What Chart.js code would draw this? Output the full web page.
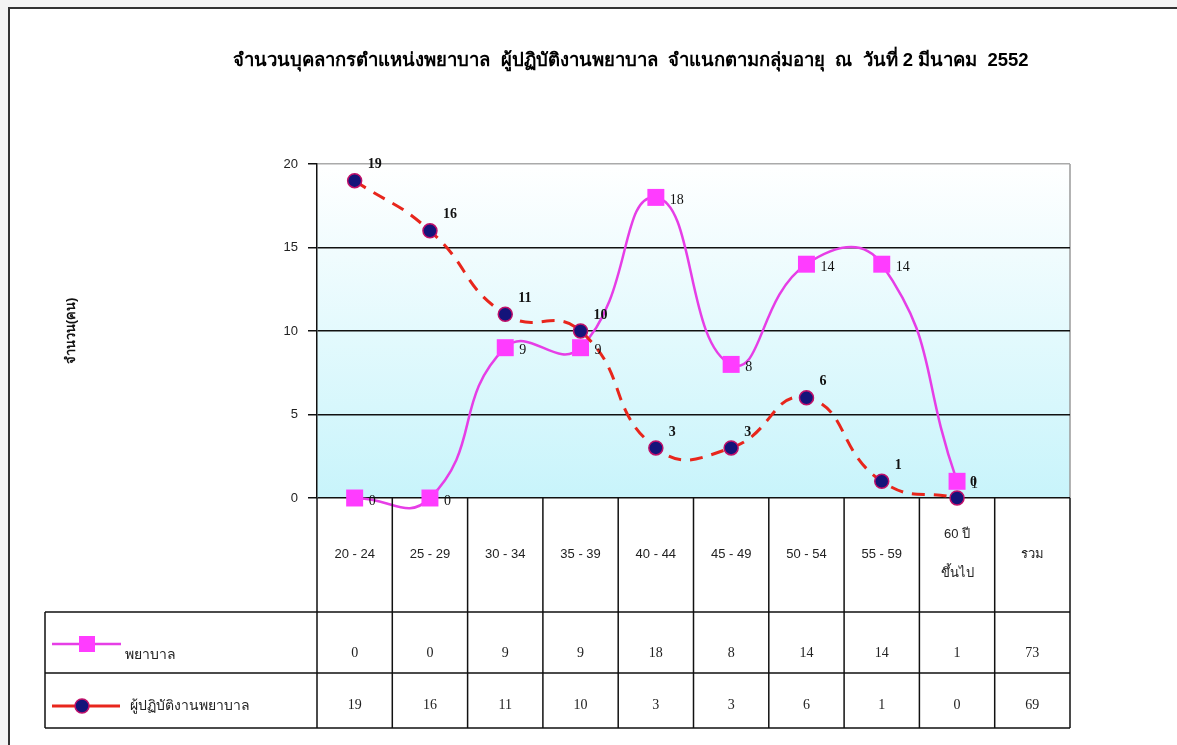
<!DOCTYPE html>
<html>
<head>
<meta charset="utf-8">
<script src="https://cdn.jsdelivr.net/npm/chart.js@4.4.1/dist/chart.umd.min.js"></script>
<style>
  body { margin: 0; background: #f4f4f4; }
  canvas { display: block; }
</style>
</head>
<body>
<canvas id="myChart" width="1177" height="745"></canvas>
<script>
// data
const chartTitle = 'จำนวนบุคลากรตำแหน่งพยาบาล  ผู้ปฏิบัติงานพยาบาล  จำแนกตามกลุ่มอายุ  ณ  วันที่ 2 มีนาคม  2552';
const yTitle = 'จำนวน(คน)';
const ageGroups = ['20 - 24', '25 - 29', '30 - 34', '35 - 39', '40 - 44', '45 - 49', '50 - 54', '55 - 59', ['60 ปี', 'ขึ้นไป'], 'รวม'];
const seriesNames = ['พยาบาล', 'ผู้ปฏิบัติงานพยาบาล'];
const nurses = [0, 0, 9, 9, 18, 8, 14, 14, 1];
const practitioners = [19, 16, 11, 10, 3, 3, 6, 1, 0];
const totals = [73, 69];
const yTicks = [0, 5, 10, 15, 20];

const pink = '#e63ee6';
const pinkMarker = '#ff3cff';
const red = '#e8261c';
const navy = '#14147a';

const serif = '"Liberation Serif", "Times New Roman", serif';
const sans = '"Liberation Sans", Tahoma, "Noto Sans", sans-serif';

// row positions of the data table under the plot
const tableLeft = 45;
const tableBottom = 728;
const rowTops = [612, 673];

// background, frame and plot fill
const backgroundPlugin = {
  id: 'background',
  beforeDraw(chart) {
    const { ctx, chartArea: a } = chart;
    ctx.save();
    ctx.fillStyle = '#f4f4f4';
    ctx.fillRect(0, 0, chart.width, chart.height);
    ctx.fillStyle = '#fff';
    ctx.fillRect(9, 8, chart.width, chart.height);
    ctx.strokeStyle = '#333';
    ctx.lineWidth = 2;
    ctx.strokeRect(9, 8, chart.width + 10, chart.height + 10);
    const g = ctx.createLinearGradient(0, a.top, 0, a.bottom);
    g.addColorStop(0, '#ffffff');
    g.addColorStop(1, '#c8f4fb');
    ctx.fillStyle = g;
    ctx.fillRect(a.left, a.top, a.right - a.left, a.bottom - a.top);
    ctx.strokeStyle = '#9a9a9a';
    ctx.lineWidth = 1.5;
    ctx.beginPath();
    ctx.moveTo(a.right, a.top);
    ctx.lineTo(a.right, a.bottom);
    ctx.stroke();
    ctx.restore();
  }
};

// data table + labels + title
const tablePlugin = {
  id: 'dataTable',
  afterDraw(chart) {
    const { ctx, chartArea: a } = chart;
    const x = chart.scales.x;
    const n = ageGroups.length;
    const half = (x.getPixelForValue(1) - x.getPixelForValue(0)) / 2;
    ctx.save();

    // title
    ctx.fillStyle = '#000';
    ctx.font = 'bold 18.5px ' + sans;
    ctx.textAlign = 'center';
    ctx.textBaseline = 'middle';
    ctx.fillText(chartTitle, 631, 61);

    // grid of the table
    ctx.strokeStyle = '#111';
    ctx.lineWidth = 1.5;
    ctx.beginPath();
    for (let i = 0; i < n; i++) {
      const xr = x.getPixelForValue(i) + half;
      ctx.moveTo(xr, a.bottom);
      ctx.lineTo(xr, tableBottom);
    }
    ctx.moveTo(a.left, a.bottom);
    ctx.lineTo(a.left, tableBottom);
    ctx.moveTo(tableLeft, rowTops[0]);
    ctx.lineTo(tableLeft, tableBottom);
    rowTops.concat([tableBottom]).forEach(yy => {
      ctx.moveTo(tableLeft, yy);
      ctx.lineTo(a.right, yy);
    });
    ctx.stroke();

    // header labels
    ctx.font = '13px ' + sans;
    ctx.fillStyle = '#222';
    ageGroups.forEach((lab, i) => {
      const cx = x.getPixelForValue(i);
      if (Array.isArray(lab)) {
        ctx.fillText(lab[0], cx, 534);
        ctx.fillText(lab[1], cx, 573);
      } else {
        ctx.fillText(lab, cx, 554);
      }
    });

    // rows: values
    const rows = [nurses.concat([totals[0]]), practitioners.concat([totals[1]])];
    const rowY = [653, 705];
    ctx.font = '14px ' + serif;
    rows.forEach((vals, r) => {
      vals.forEach((v, i) => {
        ctx.fillText(String(v), x.getPixelForValue(i), rowY[r]);
      });
    });

    // legend keys
    ctx.lineWidth = 2.5;
    ctx.strokeStyle = pink;
    ctx.beginPath();
    ctx.moveTo(52, 644);
    ctx.lineTo(121, 644);
    ctx.stroke();
    ctx.fillStyle = pinkMarker;
    ctx.fillRect(79, 636, 16, 16);
    ctx.strokeStyle = red;
    ctx.lineWidth = 3;
    ctx.beginPath();
    ctx.moveTo(52, 706);
    ctx.lineTo(120, 706);
    ctx.stroke();
    ctx.fillStyle = navy;
    ctx.beginPath();
    ctx.arc(82, 706, 7, 0, Math.PI * 2);
    ctx.fill();
    ctx.strokeStyle = '#c0106a';
    ctx.lineWidth = 1.5;
    ctx.stroke();

    ctx.fillStyle = '#222';
    ctx.textAlign = 'left';
    ctx.font = '14px ' + sans;
    ctx.fillText(seriesNames[0], 125, 655);
    ctx.fillText(seriesNames[1], 130, 706);

    // point labels
    ctx.fillStyle = '#111';
    ctx.font = '14px ' + serif;
    chart.getDatasetMeta(1).data.forEach((pt, i) => {
      ctx.fillText(String(nurses[i]), pt.x + 14, pt.y + 3);
    });
    ctx.font = 'bold 14px ' + serif;
    chart.getDatasetMeta(0).data.forEach((pt, i) => {
      ctx.fillText(String(practitioners[i]), pt.x + 13, pt.y - 16);
    });
    ctx.restore();
  }
};

const ctx = document.getElementById('myChart');

new Chart(ctx, {
  type: 'line',
  data: {
    labels: ageGroups,
    datasets: [{
      label: seriesNames[1],
      data: practitioners,
      order: 0,
      borderColor: red,
      borderWidth: 3,
      borderDash: [13, 9],
      tension: 0.5,
      capBezierPoints: false,
      clip: false,
      pointRadius: 7,
      pointBackgroundColor: navy,
      pointBorderColor: '#c0106a',
      pointBorderWidth: 1.5
    }, {
      label: seriesNames[0],
      data: nurses,
      order: 1,
      borderColor: pink,
      borderWidth: 2.5,
      tension: 0.5,
      capBezierPoints: false,
      clip: false,
      pointStyle: 'rect',
      pointRadius: 12,
      pointBackgroundColor: pinkMarker,
      pointBorderColor: pinkMarker,
      pointBorderWidth: 0
    }]
  },
  options: {
    responsive: false,
    animation: false,
    layout: { padding: { left: 60, right: 107, top: 164, bottom: 17 } },
    plugins: {
      legend: { display: false },
      title: { display: false },
      tooltip: { enabled: false }
    },
    scales: {
      x: {
        type: 'category',
        offset: true,
        grid: { display: false },
        border: { display: false },
        ticks: { display: false },
        afterFit: s => { s.height = 230; }
      },
      y: {
        min: 0,
        max: 20,
        afterBuildTicks: s => { s.ticks = yTicks.map(v => ({ value: v })); },
        ticks: {
          color: '#222',
          padding: 10,
          font: { family: sans, size: 13 }
        },
        grid: {
          color: c => (c.tick && c.tick.value === 20 ? '#aaa' : '#111'),
          lineWidth: 1.5,
          tickLength: 9,
          tickColor: '#111'
        },
        border: { display: true, color: '#111', width: 1.5 },
        title: {
          display: true,
          text: yTitle,
          color: '#111',
          font: { family: sans, size: 13, weight: 'bold' }
        },
        afterFit: s => { s.width = 257; }
      }
    }
  },
  plugins: [backgroundPlugin, tablePlugin]
});
</script>
</body>
</html>
